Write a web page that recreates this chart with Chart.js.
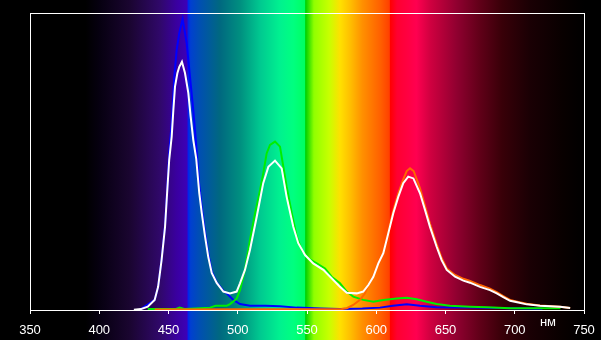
<!DOCTYPE html>
<html>
<head>
<meta charset="utf-8">
<script src="https://cdn.jsdelivr.net/npm/chart.js@4.4.1/dist/chart.umd.min.js"></script>
<style>
html,body{margin:0;padding:0;background:#000;}
#wrap{width:601px;height:340px;}
</style>
</head>
<body>
<div id="wrap"><canvas id="c" width="601" height="340"></canvas></div>
<script>
// ---- Data (wavelength in nm, relative intensity) ----
const xTicks = [350, 400, 450, 500, 550, 600, 650, 700, 750];
const unitLabel = 'нм';

const wlWhite = [425, 430, 435, 440, 442.5, 445, 447.5, 449, 450.5, 452.3, 453.5, 454.7, 456.4, 457.8, 459.7, 461.9, 464.3, 466, 467.9, 470, 472.2, 474, 476.4, 478.7, 481.2, 484.8, 489.6, 494.4, 499.2, 501.6, 505.2, 508.8, 513.7, 518.4, 522.1, 526.9, 531.7, 535.3, 540.1, 543.7, 548.6, 554.5, 561.8, 567.8, 573.8, 578.7, 585.9, 590.6, 594.3, 597.9, 601.5, 605.1, 608.7, 612.3, 615.9, 619.5, 623.1, 626.8, 631.6, 635.2, 638.8, 643.6, 647.2, 650.9, 656.9, 662.9, 667.7, 674.9, 682.1, 687, 691.7, 696.6, 702.6, 708.6, 718.2, 732.7, 740];
const valWhite = [0.001, 0.003, 0.011, 0.034, 0.078, 0.168, 0.28, 0.394, 0.505, 0.584, 0.673, 0.752, 0.797, 0.819, 0.836, 0.798, 0.731, 0.651, 0.572, 0.51, 0.394, 0.327, 0.247, 0.179, 0.125, 0.091, 0.062, 0.056, 0.062, 0.09, 0.135, 0.202, 0.314, 0.427, 0.482, 0.503, 0.477, 0.381, 0.28, 0.225, 0.185, 0.157, 0.135, 0.107, 0.078, 0.058, 0.056, 0.062, 0.084, 0.112, 0.157, 0.191, 0.258, 0.326, 0.381, 0.427, 0.449, 0.443, 0.393, 0.337, 0.28, 0.213, 0.168, 0.135, 0.112, 0.099, 0.092, 0.078, 0.067, 0.056, 0.043, 0.031, 0.025, 0.019, 0.014, 0.011, 0.007];

const wlBlue = [430, 440, 442.5, 445, 447.5, 449, 450.5, 452.3, 454.2, 455.9, 457.8, 460.2, 463.1, 465.5, 467.9, 469.9, 472.2, 474, 476.4, 478.7, 481.2, 484.8, 489.6, 492, 496.8, 501.6, 508.8, 520, 530.5, 542.6, 560, 573.8, 590, 602.7, 612, 622, 631.6, 643.6, 667.7, 696.6, 720];
const valBlue = [0.003, 0.034, 0.078, 0.17, 0.285, 0.4, 0.53, 0.63, 0.786, 0.875, 0.933, 0.98, 0.899, 0.786, 0.673, 0.562, 0.42, 0.345, 0.26, 0.19, 0.13, 0.093, 0.065, 0.056, 0.034, 0.02, 0.014, 0.014, 0.013, 0.008, 0.005, 0.003, 0.005, 0.008, 0.014, 0.019, 0.014, 0.009, 0.008, 0.006, 0.004];

const wlGreen = [435, 455, 458, 462, 480, 484, 492, 494.4, 499.2, 501.6, 505.2, 508.8, 512.5, 516.1, 518.4, 520.9, 523.3, 526.9, 530.5, 532.5, 535.3, 539, 542.6, 546.2, 550.9, 557, 563, 567.8, 573.8, 578.7, 583.4, 590.6, 597.9, 605.1, 614.7, 622, 629.2, 636.4, 643.6, 653.2, 667.7, 680, 696.6, 733];
const valGreen = [0.003, 0.003, 0.008, 0.003, 0.008, 0.014, 0.014, 0.02, 0.038, 0.067, 0.135, 0.236, 0.326, 0.404, 0.46, 0.528, 0.556, 0.567, 0.55, 0.494, 0.415, 0.326, 0.247, 0.202, 0.174, 0.157, 0.14, 0.112, 0.09, 0.062, 0.045, 0.034, 0.028, 0.034, 0.039, 0.041, 0.036, 0.028, 0.02, 0.014, 0.011, 0.009, 0.006, 0.006];

const wlRed = [440, 575, 578.7, 583.4, 588.3, 591.9, 594.3, 597.9, 601.5, 605.1, 608.7, 612.3, 615.9, 619.5, 622, 624.4, 627, 631.6, 635.2, 638.8, 643.6, 647.2, 650.9, 656.9, 662.9, 667.7, 674.9, 682.1, 687, 691.7, 696.6, 702.6, 708.6, 718.2, 732.7, 740];
const valRed = [0.002, 0.003, 0.006, 0.017, 0.034, 0.056, 0.084, 0.115, 0.16, 0.197, 0.265, 0.335, 0.393, 0.44, 0.468, 0.477, 0.468, 0.41, 0.35, 0.29, 0.222, 0.175, 0.14, 0.118, 0.105, 0.098, 0.084, 0.072, 0.06, 0.047, 0.034, 0.027, 0.021, 0.015, 0.011, 0.007];

// ---- Styling: background spectrum colour stops (wavelength -> colour) ----
const spectrumStops = [
  [350, '#000000'], [390, '#000000'], [400, '#060010'], [422, '#1a0530'],
  [444, '#30086a'], [456, '#3a00a0'], [463.5, '#3c00b8'], [464, '#0020f0'],
  [466, '#0040d0'], [473, '#0050b0'], [487, '#006880'], [502, '#009080'],
  [516, '#00c890'], [530, '#00f090'], [540, '#00ff80'], [548.5, '#00ff60'],
  [549, '#00d000'], [551, '#30e000'], [555, '#90ff00'], [566, '#c8ff00'],
  [574, '#ffe000'], [581, '#ffc000'], [590, '#ff9000'], [603, '#ff6000'],
  [609.5, '#ff4000'], [610, '#ff0000'], [615, '#ff0030'], [629, '#ff0050'],
  [639, '#d00040'], [658, '#900030'], [675, '#600018'], [691, '#380008'],
  [711, '#1a0004'], [735, '#080000'], [750, '#000000']
];

const FONT = 'Liberation Sans, Arial, sans-serif';

const toPts = (xs, ys) => xs.map((x, i) => ({x: x, y: ys[i]}));

const spectrumPlugin = {
  id: 'spectrum',
  beforeDraw(chart) {
    const ctx = chart.ctx;
    const xs = chart.scales.x;
    ctx.save();
    ctx.fillStyle = '#000';
    ctx.fillRect(0, 0, chart.width, chart.height);
    const x0 = xs.getPixelForValue(350), x1 = xs.getPixelForValue(750);
    const g = ctx.createLinearGradient(x0, 0, x1, 0);
    spectrumStops.forEach(s => g.addColorStop((s[0] - 350) / 400, s[1]));
    ctx.fillStyle = g;
    ctx.fillRect(x0, 0, x1 - x0, chart.height);
    ctx.restore();
  },
  beforeDatasetsDraw(chart) {
    const ctx = chart.ctx, a = chart.chartArea;
    ctx.save();
    ctx.strokeStyle = '#fff';
    ctx.lineWidth = 1;
    ctx.strokeRect(Math.round(a.left) + 0.5, Math.round(a.top) + 0.5,
      Math.round(a.right - a.left), Math.round(a.bottom - a.top));
    ctx.restore();
  },
  afterDraw(chart) {
    const ctx = chart.ctx;
    ctx.save();
    ctx.fillStyle = '#fff';
    ctx.font = '13px ' + FONT;
    ctx.textAlign = 'center';
    ctx.textBaseline = 'alphabetic';
    ctx.fillText(unitLabel, 548, 326);
    ctx.restore();
  }
};

new Chart(document.getElementById('c'), {
  type: 'line',
  data: {
    datasets: [
      {label: 'white', data: toPts(wlWhite, valWhite), borderColor: '#ffffff'},
      {label: 'red', data: toPts(wlRed, valRed), borderColor: '#ff6600'},
      {label: 'green', data: toPts(wlGreen, valGreen), borderColor: '#00ee00'},
      {label: 'blue', data: toPts(wlBlue, valBlue), borderColor: '#0000ff'}
    ]
  },
  options: {
    responsive: false,
    animation: false,
    parsing: true,
    elements: {
      point: {radius: 0},
      line: {borderWidth: 2, tension: 0, fill: false}
    },
    layout: {padding: {left: 30, right: 17, top: 13, bottom: 0}},
    plugins: {legend: {display: false}, tooltip: {enabled: false}},
    scales: {
      x: {
        type: 'linear', min: 350, max: 750,
        afterBuildTicks(s) { s.ticks = xTicks.map(v => ({value: v})); },
        afterFit(s) { s.height = 30; s.paddingLeft = 0; s.paddingRight = 0; },
        ticks: {color: '#fff', font: {size: 13, family: FONT}, padding: 9, maxRotation: 0},
        grid: {display: true, drawOnChartArea: false, drawTicks: true, tickLength: 4, color: '#fff'},
        border: {display: false}
      },
      y: {display: false, min: 0, max: 1}
    }
  },
  plugins: [spectrumPlugin]
});
</script>
</body>
</html>
